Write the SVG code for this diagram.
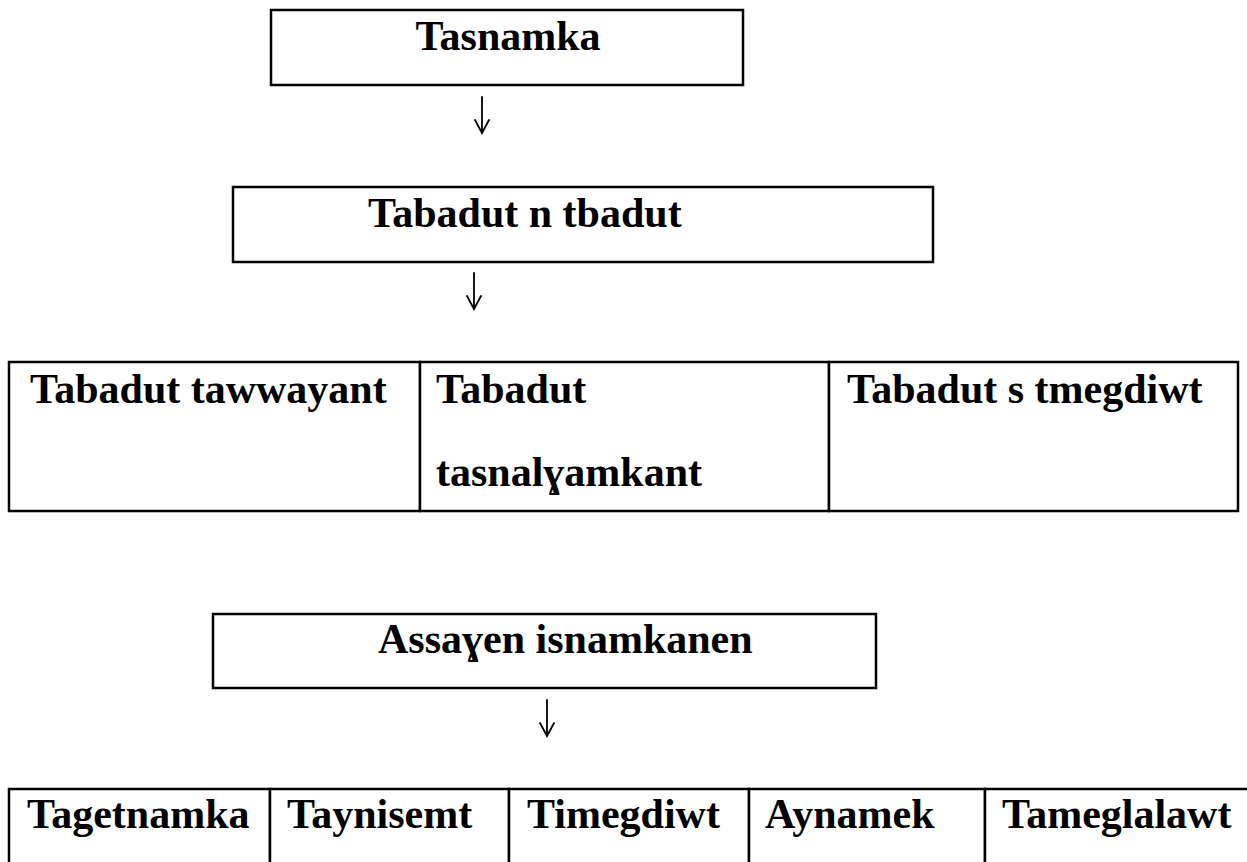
<svg xmlns="http://www.w3.org/2000/svg" width="1247" height="862" viewBox="0 0 1247 862">
<style>
  .box { fill: #ffffff; stroke: #000000; stroke-width: 2.5; }
  .lbl { font-family: "Liberation Serif", "DejaVu Serif", serif; font-weight: bold; font-size: 42px; fill: #000000; }
  .arr { fill: none; stroke: #000000; stroke-width: 1.8; stroke-linecap: round; stroke-linejoin: miter; }
</style>
<rect x="0" y="0" width="1247" height="862" fill="#ffffff"/>

<g id="n-tasnamka">
  <rect class="box" x="271" y="10" width="472" height="75"/>
  <text class="lbl" x="508" y="50" text-anchor="middle">Tasnamka</text>
</g>

<g id="n-tabadut-n-tbadut">
  <rect class="box" x="233" y="187" width="700" height="75"/>
  <text class="lbl" x="368" y="227">Tabadut n tbadut</text>
</g>

<g id="n-tabadut-tawwayant">
  <rect class="box" x="9" y="362" width="411" height="149"/>
  <text class="lbl" x="30" y="403">Tabadut tawwayant</text>
</g>
<g id="n-tabadut-tasnalgamkant">
  <rect class="box" x="420" y="362" width="409" height="149"/>
  <text class="lbl" x="436" y="403">Tabadut</text>
  <text class="lbl" x="436" y="486">tasnalɣamkant</text>
</g>
<g id="n-tabadut-s-tmegdiwt">
  <rect class="box" x="829" y="362" width="409" height="149"/>
  <text class="lbl" x="847" y="403">Tabadut s tmegdiwt</text>
</g>

<g id="n-assagen-isnamkanen">
  <rect class="box" x="213" y="614" width="663" height="74"/>
  <text class="lbl" x="378" y="653">Assaɣen isnamkanen</text>
</g>

<g id="n-tagetnamka">
  <rect class="box" x="9" y="789" width="261" height="90"/>
  <text class="lbl" x="27" y="828">Tagetnamka</text>
</g>
<g id="n-taynisemt">
  <rect class="box" x="270" y="789" width="239" height="90"/>
  <text class="lbl" x="287" y="828">Taynisemt</text>
</g>
<g id="n-timegdiwt">
  <rect class="box" x="509" y="789" width="240" height="90"/>
  <text class="lbl" x="527" y="828">Timegdiwt</text>
</g>
<g id="n-aynamek">
  <rect class="box" x="749" y="789" width="236" height="90"/>
  <text class="lbl" x="765" y="828">Aynamek</text>
</g>
<g id="n-tameglalawt">
  <rect class="box" x="985" y="789" width="270" height="90"/>
  <text class="lbl" x="1002" y="828">Tameglalawt</text>
</g>

<g id="connectors">
  <path class="arr" d="M482 97 L482 133 M475 120 L482 133 L489 120"/>
  <path class="arr" d="M474 273 L474 309 M467 296 L474 309 L481 296"/>
  <path class="arr" d="M547 700 L547 736 M540 723 L547 736 L554 723"/>
</g>
</svg>
